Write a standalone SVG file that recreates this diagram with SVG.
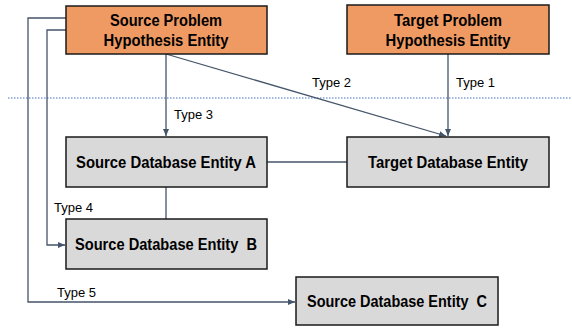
<svg xmlns="http://www.w3.org/2000/svg" width="572" height="328" viewBox="0 0 572 328">
<defs>
<style>
.hyp{fill:#F09A63;stroke:#1a1a1a;stroke-width:1.5}
.db{fill:#D9D9D9;stroke:#1a1a1a;stroke-width:1.5}
.t{font-family:"Liberation Sans",Arial,sans-serif;font-weight:bold;font-size:16px;fill:#000;text-anchor:middle}
.lbl{font-family:"Liberation Sans",Arial,sans-serif;font-size:13px;fill:#000}
.c{fill:none;stroke:#44546A;stroke-width:1.3}
</style>
<marker id="ah" markerWidth="8" markerHeight="8" refX="7" refY="4" orient="auto" markerUnits="userSpaceOnUse">
<path d="M0,1 L7,4 L0,7 Z" fill="#44546A"/>
</marker>
</defs>
<line x1="8" y1="98" x2="572" y2="98" stroke="#4472C4" stroke-width="1" stroke-dasharray="1.5,1.5"/>
<g id="connectors">
<path class="c" d="M166,54 V136" marker-end="url(#ah)"/>
<path class="c" d="M166,54 L446,136" marker-end="url(#ah)"/>
<path class="c" d="M448,54 V136" marker-end="url(#ah)"/>
<path class="c" d="M267,162 H347"/>
<path class="c" d="M166,187 V219"/>
<path class="c" d="M66,30 H47 V245 H65" marker-end="url(#ah)"/>
<path class="c" d="M66,18 H28 V302 H295" marker-end="url(#ah)"/>
<text class="lbl" x="312" y="87">Type 2</text>
<text class="lbl" x="456" y="87">Type 1</text>
<text class="lbl" x="174" y="119">Type 3</text>
<text class="lbl" x="54" y="212">Type 4</text>
<text class="lbl" x="57" y="297">Type 5</text>
</g>
<g id="source-problem">
<rect class="hyp" x="66" y="6" width="201" height="48"/>
<text class="t" x="166" y="26" textLength="112" lengthAdjust="spacingAndGlyphs">Source Problem</text>
<text class="t" x="166" y="46" textLength="125" lengthAdjust="spacingAndGlyphs">Hypothesis Entity</text>
</g>
<g id="target-problem">
<rect class="hyp" x="347" y="5" width="202" height="49"/>
<text class="t" x="448" y="26" textLength="108" lengthAdjust="spacingAndGlyphs">Target Problem</text>
<text class="t" x="448" y="46" textLength="125" lengthAdjust="spacingAndGlyphs">Hypothesis Entity</text>
</g>
<g id="source-db-a">
<rect class="db" x="66" y="137" width="201" height="50"/>
<text class="t" x="166" y="168" textLength="180" lengthAdjust="spacingAndGlyphs">Source Database Entity A</text>
</g>
<g id="target-db">
<rect class="db" x="347" y="137" width="202" height="50"/>
<text class="t" x="448" y="168" textLength="160" lengthAdjust="spacingAndGlyphs">Target Database Entity</text>
</g>
<g id="source-db-b">
<rect class="db" x="66" y="219" width="201" height="50"/>
<text class="t" x="166" y="250" textLength="182" lengthAdjust="spacingAndGlyphs" xml:space="preserve">Source Database Entity  B</text>
</g>
<g id="source-db-c">
<rect class="db" x="296" y="277" width="202" height="48"/>
<text class="t" x="397" y="307" textLength="180" lengthAdjust="spacingAndGlyphs" xml:space="preserve">Source Database Entity  C</text>
</g>
</svg>
